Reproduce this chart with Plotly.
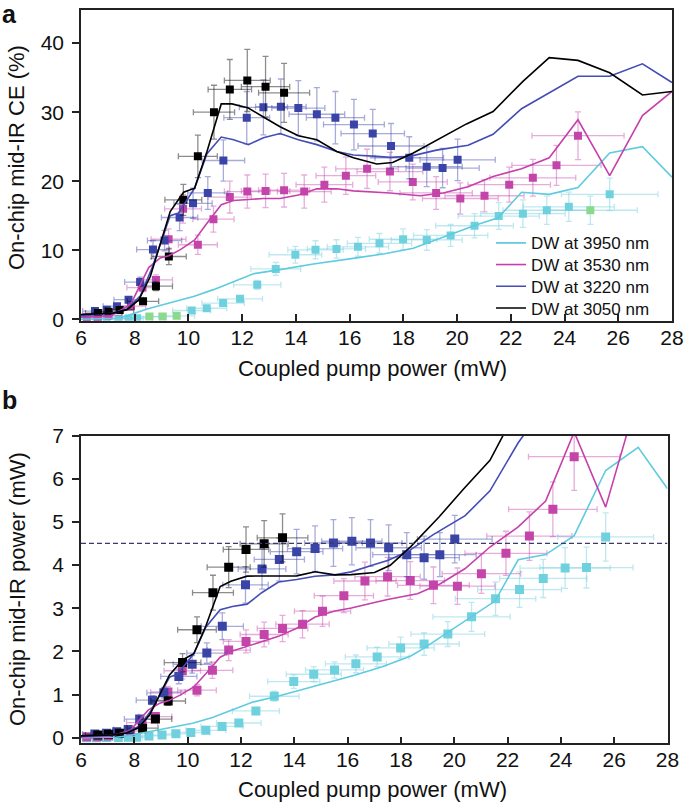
import plotly.graph_objects as go

# ---------------- data ----------------
pump_ticks = [6, 8, 10, 12, 14, 16, 18, 20, 22, 24, 26, 28]
ce_ticks = [0, 10, 20, 30, 40]
power_ticks = [0, 1, 2, 3, 4, 5, 6, 7]
legend_names = ["DW at 3950 nm", "DW at 3530 nm", "DW at 3220 nm", "DW at 3050 nm"]
threshold_power = 4.5

# measured points (shared pump power for both panels)
black_x = [6.63, 7.03, 7.44, 8.31, 8.79, 9.27, 9.81, 10.35, 10.95, 11.54, 12.19, 12.87, 13.56]
black_ce = [0.9, 1.1, 1.35, 2.6, 4.8, 9.1, 17.3, 23.6, 30.0, 33.3, 34.6, 33.7, 32.8]
black_pw = [0.06, 0.08, 0.1, 0.22, 0.43, 0.85, 1.74, 2.5, 3.36, 3.95, 4.36, 4.49, 4.63]

blue_x = [6.52, 6.96, 7.34, 7.77, 8.2, 8.68, 9.11, 9.67, 10.17, 10.72, 11.3, 12.17, 12.79,
          13.44, 14.09, 14.78, 15.47, 16.16, 16.86, 17.54, 18.22, 18.87, 19.46, 20.02]
blue_ce = [1.2, 1.4, 1.9, 2.85, 5.4, 10.1, 11.4, 14.75, 16.8, 18.3, 23.0, 29.2, 30.7,
           30.8, 30.6, 29.7, 29.2, 28.2, 26.9, 25.1, 23.4, 22.1, 21.9, 23.1]
blue_pw = [0.085, 0.1, 0.14, 0.19, 0.43, 0.87, 1.04, 1.42, 1.7, 1.96, 2.58, 3.54, 3.91,
           4.13, 4.31, 4.38, 4.51, 4.55, 4.51, 4.4, 4.24, 4.17, 4.24, 4.6]

magenta_x = [6.22, 6.63, 7.03, 7.86, 8.29, 8.79, 9.26, 9.8, 10.35, 10.93, 11.54, 12.19, 12.87,
             13.56, 14.31, 15.06, 15.86, 16.65, 17.5, 18.35, 19.22, 20.12, 21.02, 21.94, 22.82,
             23.7, 24.5]
magenta_ce = [0.3, 0.35, 0.55, 1.9, 4.6, 5.7, 11.6, 16.0, 10.8, 14.5, 17.7, 18.5, 18.6,
              18.7, 18.5, 19.5, 20.8, 21.8, 21.4, 19.9, 18.3, 17.5, 17.9, 19.5, 20.5,
              22.3, 26.6]
magenta_pw = [0.02, 0.023, 0.04, 0.15, 0.35, 0.49, 1.06, 1.55, 1.1, 1.56, 2.03, 2.23, 2.39,
              2.53, 2.63, 2.93, 3.29, 3.63, 3.73, 3.64, 3.53, 3.51, 3.8, 4.27, 4.67,
              5.29, 6.51]

cyan_x = [6.21, 6.58, 6.96, 7.4, 7.77, 8.09, 8.55, 9.04, 9.56, 10.12, 10.68, 11.29, 11.92,
          12.56, 13.25, 13.98, 14.73, 15.51, 16.31, 17.11, 17.99, 18.87, 19.76, 20.65, 21.55,
          22.45, 23.34, 24.16, 24.96, 25.68]
cyan_ce = [0.05, 0.05, 0.08, 0.1, 0.12, 0.16, 0.4, 0.4, 0.5, 1.28, 1.6, 2.35, 2.97,
           5.0, 7.3, 9.35, 10.07, 10.2, 10.5, 11.0, 11.6, 11.5, 12.15, 13.55, 14.96,
           15.3, 15.8, 16.3, 15.8, 18.1]
cyan_pw = [0.0, 0.0, 0.005, 0.007, 0.01, 0.013, 0.04, 0.06, 0.09, 0.12, 0.17, 0.26, 0.34,
           0.62, 0.96, 1.3, 1.47, 1.57, 1.71, 1.87, 2.08, 2.17, 2.4, 2.8, 3.22,
           3.43, 3.69, 3.93, 3.94, 4.65]
cyan_green_points = [8.55, 9.04, 9.56, 24.96]   # points drawn green in panel a

# simulated curves
black_sim_x = [6.0, 7.2, 7.71, 8.15, 8.58, 9.32, 9.82, 10.23, 10.69, 11.22, 11.62, 12.23, 12.79,
               13.41, 14.09, 14.78, 15.52, 16.14, 17.01, 17.6, 18.37, 19.42, 20.35, 21.34,
               22.46, 23.43, 24.5, 25.68, 26.9, 28.0]
black_sim_ce = [0.7, 0.9, 1.4, 2.8, 6.2, 15.6, 18.4, 19.0, 24.3, 31.2, 31.2, 30.6, 29.3,
                27.9, 26.6, 26.0, 24.3, 23.4, 22.5, 22.7, 24.1, 26.3, 28.3, 30.1,
                34.5, 37.9, 37.5, 35.7, 32.5, 33.0]
black_sim_pw = [0.042, 0.065, 0.108, 0.228, 0.532, 1.454, 1.807, 1.944, 2.598, 3.501, 3.625,
                3.742, 3.747, 3.741, 3.748, 3.843, 3.771, 3.777, 3.827, 3.995, 4.427, 5.107,
                5.759, 6.423, 7.749, 8.88, 9.19, 9.17, 8.74, 9.24]

blue_sim_x = [6.0, 7.2, 7.71, 8.21, 8.63, 9.32, 9.63, 10.23, 10.69, 11.22, 11.68, 12.23, 12.79,
              13.41, 14.09, 14.78, 15.52, 16.14, 17.01, 17.5, 18.24, 19.23, 20.41, 21.34,
              22.4, 23.43, 24.5, 25.68, 26.9, 28.0]
blue_sim_ce = [0.5, 0.9, 1.5, 3.4, 7.3, 15.0, 15.4, 19.0, 24.0, 26.4, 26.0, 25.3, 26.3,
               26.9, 26.0, 25.3, 24.3, 23.8, 23.6, 23.45, 23.6, 24.5, 25.2, 26.8,
               30.5, 32.8, 35.2, 35.2, 37.0, 34.3]
blue_sim_pw = [0.03, 0.065, 0.116, 0.279, 0.63, 1.398, 1.483, 1.944, 2.566, 2.962, 3.037,
               3.094, 3.364, 3.607, 3.663, 3.739, 3.771, 3.841, 4.014, 4.104, 4.305, 4.711,
               5.143, 5.719, 6.832, 7.685, 8.624, 9.039, 9.953, 9.604]

magenta_sim_x = [6.0, 7.09, 7.84, 8.52, 8.95, 9.27, 9.7, 10.23, 10.69, 11.22, 11.68, 12.23,
                 12.79, 13.41, 14.09, 14.78, 15.52, 16.14, 17.01, 17.5, 18.62, 19.48, 20.41,
                 21.34, 22.4, 23.43, 24.5, 25.68, 26.9, 28.0]
magenta_sim_ce = [0.3, 0.5, 2.1, 7.5, 8.9, 9.2, 10.1, 11.5, 13.9, 16.6, 17.2, 17.3,
                  17.5, 17.5, 18.0, 18.9, 18.9, 18.6, 18.4, 18.3, 17.9, 18.3, 19.2,
                  20.7, 21.8, 23.4, 28.9, 20.8, 29.5, 33.0]
magenta_sim_pw = [0.018, 0.035, 0.165, 0.639, 0.797, 0.853, 0.98, 1.176, 1.486, 1.863, 2.009,
                  2.116, 2.238, 2.347, 2.536, 2.793, 2.933, 3.002, 3.13, 3.203, 3.333, 3.565,
                  3.919, 4.417, 4.883, 5.483, 7.081, 5.341, 7.936, 9.24]

cyan_sim_x = [6.0, 7.3, 7.71, 8.46, 9.32, 10.19, 10.93, 11.68, 12.42, 13.41, 14.65, 16.26,
              17.3, 18.37, 18.87, 20.73, 21.53, 22.4, 23.43, 24.5, 25.68, 26.9, 28.0]
cyan_sim_ce = [0.0, 0.15, 0.5, 1.5, 2.4, 3.3, 4.3, 5.5, 6.6, 7.2, 8.0, 8.9,
               9.5, 10.3, 11.0, 13.7, 14.7, 18.4, 18.1, 19.1, 24.1, 25.0, 20.6]
cyan_sim_pw = [0.0, 0.011, 0.039, 0.127, 0.224, 0.336, 0.47, 0.642, 0.82, 0.966, 1.172, 1.447,
               1.644, 1.892, 2.076, 2.84, 3.165, 4.122, 4.241, 4.68, 6.189, 6.725, 5.768]

# ---------------- styling ----------------
FONT = "Liberation Sans, Arial, Helvetica, sans-serif"
W, H = 685, 806

def px_x(p):
    return p / W

def px_y(p):
    return 1 - p / H

cols = {
    "cyan": ("#5ecbdf", "#70d1de", "rgba(110,205,222,0.45)"),
    "magenta": ("#c640ac", "#c445aa", "rgba(200,70,172,0.45)"),
    "blue": ("#444cb5", "#3a43a6", "rgba(60,68,170,0.45)"),
    "black": ("#000000", "#000000", "rgba(0,0,0,0.45)"),
}
green_marker = "#8ad98c"

fig = go.Figure()

measured = [
    ("cyan", cyan_x, cyan_ce, cyan_pw),
    ("magenta", magenta_x, magenta_ce, magenta_pw),
    ("blue", blue_x, blue_ce, blue_pw),
    ("black", black_x, black_ce, black_pw),
]
for name, xs, ce, pw in measured:
    line_c, mk_c, err_c = cols[name]
    mcolors_a = [green_marker if (name == "cyan" and x in cyan_green_points) else mk_c for x in xs]
    for (ys, xa, ya, yerr, size, mcol) in [(ce, "x", "y", 13, 8, mcolors_a), (pw, "x2", "y2", 12, 9, mk_c)]:
        fig.add_trace(go.Scatter(
            x=xs, y=ys, xaxis=xa, yaxis=ya, mode="markers", showlegend=False,
            marker=dict(symbol="square", size=size, color=mcol, line=dict(width=0)),
            error_x=dict(type="percent", value=7, color=err_c, thickness=1.3, width=3),
            error_y=dict(type="percent", value=yerr, color=err_c, thickness=1.3, width=3),
            cliponaxis=True, hoverinfo="skip",
        ))

sims = [
    ("cyan", cyan_sim_x, cyan_sim_ce, cyan_sim_pw, legend_names[0], "legend"),
    ("magenta", magenta_sim_x, magenta_sim_ce, magenta_sim_pw, legend_names[1], "legend2"),
    ("blue", blue_sim_x, blue_sim_ce, blue_sim_pw, legend_names[2], "legend3"),
    ("black", black_sim_x, black_sim_ce, black_sim_pw, legend_names[3], "legend4"),
]
for name, xs, ce, pw, label, lg in sims:
    line_c = cols[name][0]
    fig.add_trace(go.Scatter(x=xs, y=ce, xaxis="x", yaxis="y", mode="lines", name=label,
                             line=dict(color=line_c, width=1.6), showlegend=True, legend=lg))
    fig.add_trace(go.Scatter(x=xs, y=pw, xaxis="x2", yaxis="y2", mode="lines", name=label,
                             line=dict(color=line_c, width=1.6), showlegend=False))

# dashed threshold line in panel b
fig.add_trace(go.Scatter(x=[pump_ticks[0], pump_ticks[-1]], y=[threshold_power, threshold_power],
                         xaxis="x2", yaxis="y2", mode="lines", showlegend=False,
                         line=dict(color="#3a3a6e", width=1.3, dash="5px,3px")))

axis_common = dict(showline=True, linecolor="#222222", linewidth=1.5, mirror=True, automargin=False,
                   showgrid=False, zeroline=False, ticklen=7, tickwidth=1.5, tickcolor="#222222",
                   tickfont=dict(family=FONT, size=21, color="#111111"))

legend_style = dict(xanchor="left", yanchor="middle", bgcolor="rgba(0,0,0,0)",
                    font=dict(family=FONT, size=17, color="#111111"), borderwidth=0)
legend_rows = [243.3, 265.0, 286.7, 308.4]

fig.update_layout(
    template="none",
    width=W, height=H,
    margin=dict(l=0, r=0, t=0, b=0, autoexpand=False),
    paper_bgcolor="white", plot_bgcolor="white",
    font=dict(family=FONT, color="#111111"),
    xaxis=dict(domain=[px_x(81), px_x(672)], range=[6, 28], tickvals=pump_ticks, ticks="inside",
               anchor="y", ticklabelstandoff=-3, **axis_common),
    yaxis=dict(domain=[px_y(320.7), px_y(10)], range=[-0.2, 44.8], tickvals=ce_ticks, ticks="outside",
               anchor="x", ticklabelstandoff=4, **axis_common),
    xaxis2=dict(domain=[px_x(81), px_x(667.5)], range=[6, 28], tickvals=pump_ticks, ticks="inside",
                anchor="y2", ticklabelstandoff=-3, **axis_common),
    yaxis2=dict(domain=[px_y(743.3), px_y(435.5)], range=[-0.13, 7], tickvals=power_ticks, ticks="outside",
                anchor="x2", ticklabelstandoff=4, **axis_common),
    legend=dict(x=px_x(491), y=px_y(legend_rows[0]), **legend_style),
    legend2=dict(x=px_x(491), y=px_y(legend_rows[1]), **legend_style),
    legend3=dict(x=px_x(491), y=px_y(legend_rows[2]), **legend_style),
    legend4=dict(x=px_x(491), y=px_y(legend_rows[3]), **legend_style),
    showlegend=True,
)

ann = [
    dict(text="<b>a</b>", x=px_x(9), y=px_y(14), font=dict(size=25)),
    dict(text="<b>b</b>", x=px_x(9), y=px_y(400), font=dict(size=25)),
    dict(text="Coupled pump power (mW)", x=px_x(372), y=px_y(368), font=dict(size=22)),
    dict(text="Coupled pump power (mW)", x=px_x(372), y=px_y(789), font=dict(size=22)),
    dict(text="On-chip mid-IR CE (%)", x=px_x(17), y=px_y(158), font=dict(size=22), textangle=-90),
    dict(text="On-chip mid-IR power (mW)", x=px_x(17), y=px_y(589), font=dict(size=22), textangle=-90),
]
for a in ann:
    a.update(xref="paper", yref="paper", showarrow=False, xanchor="center", yanchor="middle")
    a["font"].update(family=FONT, color="#111111")
    fig.add_annotation(**a)

# remove the browser's default page margin so the figure sits at the window origin
fig.write_html("out.html", config={"displayModeBar": False},
               post_script="document.body.style.margin='0px';")
